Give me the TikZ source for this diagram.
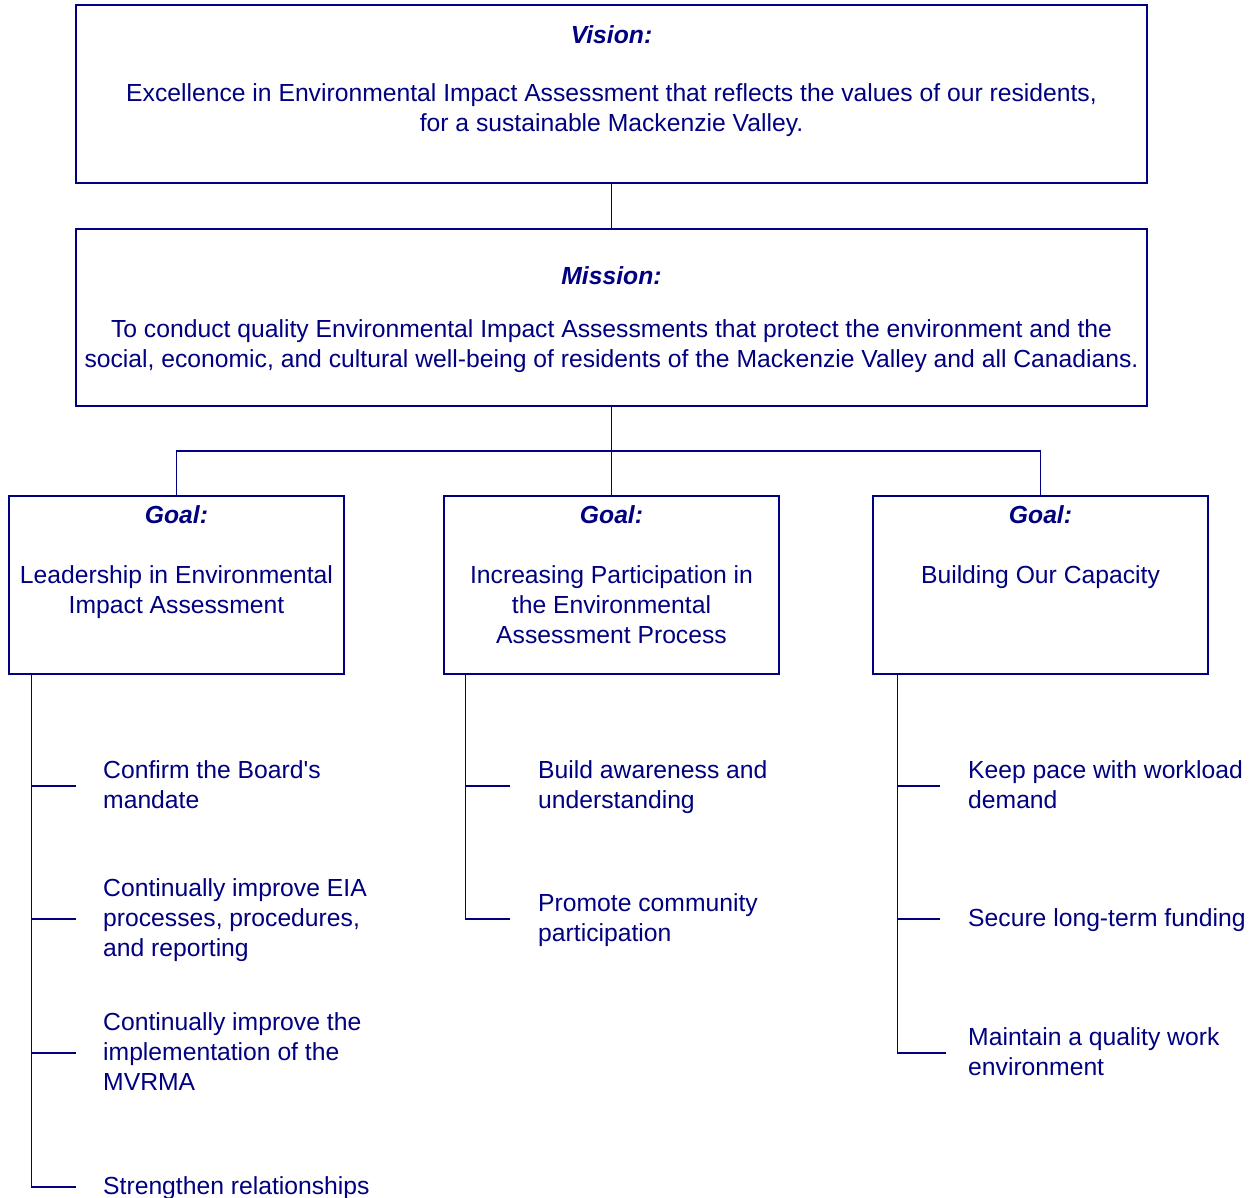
\documentclass[tikz,border=0pt]{standalone}
\usepackage{fontspec}
\setmainfont{Liberation Sans}
\usetikzlibrary{positioning}
\definecolor{planblue}{RGB}{0,0,128}
\newcommand\toprule{\rule{0pt}{24pt}}

\begin{document}
\begin{tikzpicture}[x=1pt,y=-1pt,
  every node/.style={text=planblue,inner sep=0pt,font=\fontsize{24.7}{30}\selectfont,
    execute at begin node=\strut,execute at end node=\strut},
  frame/.style={draw=planblue,line width=1.2pt,minimum width=#1,minimum height=178pt},
  title/.style={anchor=north,font=\fontsize{24.7}{30}\selectfont\bfseries\itshape},
  body/.style={anchor=north,align=center},
  item/.style={anchor=west,align=left},
  link/.style={draw=planblue,line width=1.2pt}]
\useasboundingbox (0,0) rectangle (1257,1198);
% vision and mission
\node[frame=1071pt] (vision) at (611.5,94) {};
\node[title] (visiont) at (611.5,22) {Vision:};
\node[body] (visionb) at (611.5,83) {Excellence in Environmental Impact Assessment that reflects the values of our residents,\\for a sustainable Mackenzie Valley.};
\node[frame=1071pt,minimum height=177pt] (mission) at (611.5,317.5) {};
\node[title] (missiont) at (611.5,263) {Mission:};
\node[body] (missionb) at (611.5,319) {To conduct quality Environmental Impact Assessments that protect the environment and the\\social, economic, and cultural well-being of residents of the Mackenzie Valley and all Canadians.};
% goals
\node[frame=335pt] (goal1) at (176.5,585) {};
\node[frame=335pt] (goal2) at (611.5,585) {};
\node[frame=335pt] (goal3) at (1040.5,585) {};
\node[title] (goal1t) at (176.5,502) {Goal:};
\node[title] (goal2t) at (611.5,502) {Goal:};
\node[title] (goal3t) at (1040.5,502) {Goal:};
\node[body] (goal1b) at (176.5,565) {Leadership in Environmental\\Impact Assessment};
\node[body] (goal2b) at (611.5,565) {Increasing Participation in\\the Environmental\\Assessment Process};
\node[body] (goal3b) at (1040.5,562) {Building Our Capacity};
\draw[link] (vision.south) -- (mission.north);
\draw[link] (mission.south) -- (goal2.north);
\coordinate (bus) at (611.5,451);
\draw[link] (goal1.north) |- (bus) -| (goal3.north);
% objectives
\node[item] (lead1) at (103,786) {\toprule Confirm the Board\textquotesingle s\\mandate};
\node[item] (lead2) at (103,919) {\toprule Continually improve EIA\\processes, procedures,\\and reporting};
\node[item] (lead3) at (103,1053) {\toprule Continually improve the\\implementation of the\\MVRMA};
\node[item] (lead4) at (103,1187) {\toprule Strengthen relationships};
\node[item] (part1) at (538,786) {\toprule Build awareness and\\understanding};
\node[item] (part2) at (538,919) {\toprule Promote community\\participation};
\node[item] (cap1) at (968,786) {\toprule Keep pace with workload\\demand};
\node[item] (cap2) at (968,919) {\toprule Secure long-term funding};
\node[item] (cap3) at (968,1053) {\toprule Maintain a quality work\\environment};
\coordinate (sp1) at ([xshift=23pt]goal1.south west);
\coordinate (sp2) at ([xshift=22pt]goal2.south west);
\coordinate (sp3) at ([xshift=25pt]goal3.south west);
\draw[link] (sp1) |- ([xshift=-27pt]lead4.west);
\foreach \n in {lead1,lead2,lead3}
  \draw[link] (sp1 |- \n.west) -- ([xshift=-27pt]\n.west);
\draw[link] (sp2) |- ([xshift=-28pt]part2.west);
\draw[link] (sp2 |- part1.west) -- ([xshift=-28pt]part1.west);
\draw[link] (sp3) |- ([xshift=-22pt]cap3.west);
\foreach \n in {cap1,cap2}
  \draw[link] (sp3 |- \n.west) -- ([xshift=-28pt]\n.west);
\end{tikzpicture}
\end{document}
